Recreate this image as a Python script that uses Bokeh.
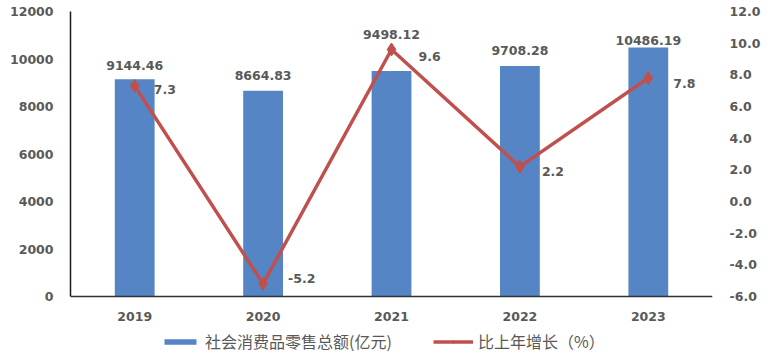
from bokeh.plotting import figure
from bokeh.models import (Range1d, LinearAxis, ColumnDataSource, Legend, LegendItem,
                          FixedTicker, LabelSet, PrintfTickFormatter)
from bokeh.embed import file_html
from bokeh.resources import INLINE
from bokeh.core.properties import value

years = ["2019", "2020", "2021", "2022", "2023"]
sales = [9144.46, 8664.83, 9498.12, 9708.28, 10486.19]
growth = [7.3, -5.2, 9.6, 2.2, 7.8]
sales_labels = ["9144.46", "8664.83", "9498.12", "9708.28", "10486.19"]
growth_labels = ["7.3", "-5.2", "9.6", "2.2", "7.8"]
left_ticks = [0, 2000, 4000, 6000, 8000, 10000, 12000]
right_ticks = [-6, -4, -2, 0, 2, 4, 6, 8, 10, 12]

# layout nudges (screen pixels) for the hand-placed data labels
sales_label_dy = [14, 15, 36, 15, 7]
growth_label_dx = [19, 25, 27, 22, 25]
growth_label_dy = [-4, 5, -7, -5, -5]

src = ColumnDataSource(dict(years=years, sales=sales, growth=growth,
                            sl=sales_labels, gl=growth_labels,
                            sdy=sales_label_dy, gdx=growth_label_dx, gdy=growth_label_dy))

GRAY = "#595959"
FONT = "DejaVu Sans"

# layout: frame spans the whole lower area; the data area (0..12000) sits above the legend
W, H = 768, 356
TOP, AXIS_Y = 11, 296          # pixel rows of 12000 and of 0
EXTRA = H - AXIS_Y             # pixels below the 0 line inside the frame
scale_l = 12000 / (AXIS_Y - TOP)
scale_r = 18 / (AXIS_Y - TOP)

p = figure(x_range=years, y_range=Range1d(-EXTRA * scale_l, 12000), width=W, height=H,
           output_backend="svg", toolbar_location=None,
           min_border_left=70, min_border_right=56, min_border_top=TOP, min_border_bottom=0)
p.extra_y_ranges = {"g": Range1d(-6 - EXTRA * scale_r, 12)}
p.outline_line_color = None
p.xgrid.visible = False
p.ygrid.visible = False
p.background_fill_color = "white"

bars = p.vbar(x="years", top="sales", width=0.31, source=src,
              fill_color="#5585C4", line_color=None)
line = p.line(x="years", y="growth", source=src, y_range_name="g",
              line_color="#C0504D", line_width=3.5)
pts = p.scatter(x="years", y="growth", source=src, y_range_name="g",
                marker="diamond", size=13, fill_color="#C0504D", line_color="#C0504D")

p.add_layout(LabelSet(x="years", y="sales", text="sl", source=src,
                      text_align="center", text_baseline="middle", y_offset="sdy",
                      text_font=value(FONT), text_font_style="bold",
                      text_font_size="12.5px", text_color=GRAY))
p.add_layout(LabelSet(x="years", y="growth", text="gl", source=src, y_range_name="g",
                      text_align="left", text_baseline="middle", x_offset="gdx", y_offset="gdy",
                      text_font=value(FONT), text_font_style="bold",
                      text_font_size="12.5px", text_color=GRAY))

# left axis
ya = p.yaxis[0]
ya.ticker = FixedTicker(ticks=left_ticks)
ya.bounds = (0, 12000)
ya.axis_line_color = "#1a1a1a"
ya.axis_line_width = 1.5
ya.major_tick_line_color = None
ya.minor_tick_line_color = None
ya.major_tick_out = 0
ya.major_label_standoff = 17
ya.major_label_text_font = FONT
ya.major_label_text_font_style = "bold"
ya.major_label_text_font_size = "12.5px"
ya.major_label_text_color = GRAY

# right axis
ra = LinearAxis(y_range_name="g", ticker=FixedTicker(ticks=right_ticks),
                formatter=PrintfTickFormatter(format="%.1f"), bounds=(-6, 12))
ra.axis_line_color = None
ra.major_tick_line_color = None
ra.minor_tick_line_color = None
ra.major_tick_out = 0
ra.major_label_standoff = 17
ra.major_label_text_font = FONT
ra.major_label_text_font_style = "bold"
ra.major_label_text_font_size = "12.5px"
ra.major_label_text_color = GRAY
p.add_layout(ra, "right")

# x axis, pinned to the 0 line
xa = p.xaxis[0]
xa.fixed_location = 0
xa.axis_line_color = "#333333"
xa.axis_line_width = 1.5
xa.major_tick_line_color = None
xa.minor_tick_line_color = None
xa.major_tick_out = 0
xa.major_label_standoff = 15
xa.major_label_text_font = FONT
xa.major_label_text_font_style = "bold"
xa.major_label_text_font_size = "12.5px"
xa.major_label_text_color = GRAY

legend = Legend(items=[
    LegendItem(label="社会消费品零售总额(亿元)", renderers=[bars]),
    LegendItem(label="比上年增长（%）", renderers=[line, pts]),
], orientation="horizontal", location=(90, 3))
legend.border_line_color = None
legend.background_fill_alpha = 0
legend.label_text_font = "Noto Sans CJK SC"
legend.label_text_font_size = "16px"
legend.label_text_color = GRAY
legend.glyph_width = 40
legend.glyph_height = 7
legend.label_height = 18
legend.label_width = 201
legend.spacing = 27
legend.padding = 2
legend.margin = 0
legend.label_standoff = 5
p.add_layout(legend, "center")

open("out.html", "w").write(file_html(p, INLINE))
